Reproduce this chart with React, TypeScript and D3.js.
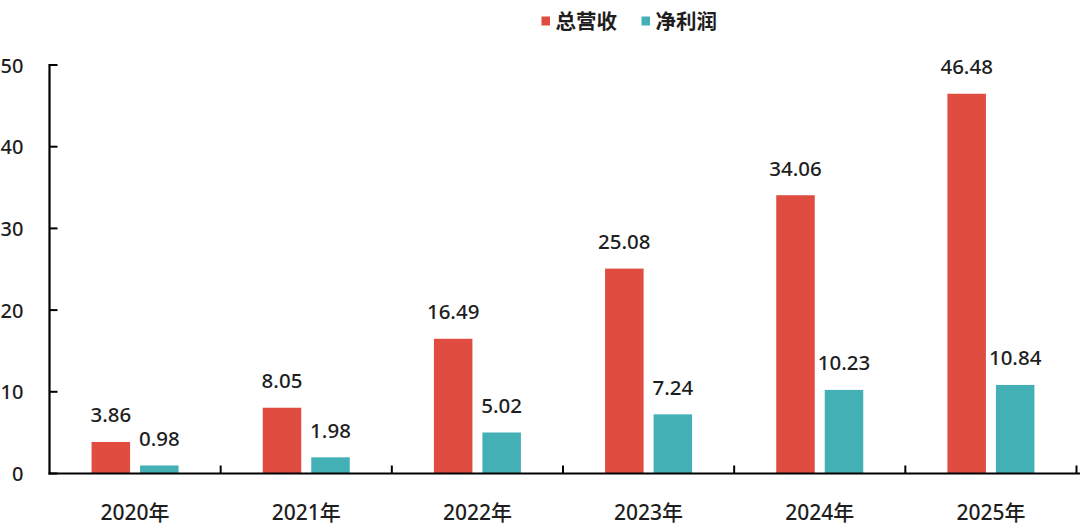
import React from "react";
import * as d3 from "d3";

const categories = ["2020年", "2021年", "2022年", "2023年", "2024年", "2025年"];
const revenue = [3.86, 8.05, 16.49, 25.08, 34.06, 46.48];
const profit = [0.98, 1.98, 5.02, 7.24, 10.23, 10.84];
const seriesNames = ["总营收", "净利润"];
const yTicks = [0, 10, 20, 30, 40, 50];
const colors = ["#E04C40", "#42B0B5"];

const W = 1080;
const H = 526;
const FONT = "'Noto Sans', 'Noto Sans CJK SC', sans-serif";

export default function App() {
  const x0 = 49.5;
  const x1 = 1076.5;
  const yBase = 473.5;
  const yTop = 65;
  const x = d3.scaleBand<string>().domain(categories).range([x0, x1]).paddingInner(0).paddingOuter(0);
  const y = d3.scaleLinear().domain([0, 50]).range([yBase, yTop]);
  const bw = 38.5;
  const gap = 10;
  const series = [revenue, profit];

  return (
    <svg
      width={W}
      height={H}
      style={{ position: "fixed", left: 0, top: 0, background: "#fff" }}
      fontFamily={FONT}
    >
      <rect x={0} y={0} width={W} height={H} fill="#fff" />
      {/* legend */}
      {seriesNames.map((n, i) => {
        const lx = i === 0 ? 541.5 : 641.5;
        return (
          <g key={n}>
            <rect x={lx} y={16.5} width={8.5} height={9} fill={colors[i]} />
            <text x={lx + 14} y={29} fontSize={20.5} fontWeight={700} fill="#1e1e1e" fontFamily="'Noto Sans CJK SC', sans-serif">
              {n}
            </text>
          </g>
        );
      })}
      {/* bars */}
      {categories.map((c, ci) => {
        const center = (x(c) as number) + x.bandwidth() / 2;
        return (
          <g key={c}>
            {series.map((s, si) => {
              const bx = si === 0 ? center - gap / 2 - bw : center + gap / 2;
              const v = s[ci];
              return (
                <g key={si}>
                  <rect x={bx} y={y(v)} width={bw} height={yBase - y(v)} fill={colors[si]} />
                  <text
                    x={bx + bw / 2}
                    y={y(v) - 19.5}
                    textAnchor="middle"
                    fontSize={20.5}
                    fontWeight={500}
                    fill="#1e1e1e"
                  >
                    {v.toFixed(2)}
                  </text>
                </g>
              );
            })}
            <text x={center} y={519.5} textAnchor="middle" fontSize={21} fontWeight={500} fill="#1e1e1e">
              {c}
            </text>
          </g>
        );
      })}
      {/* y axis */}
      <line x1={x0} x2={x0} y1={yTop - 1} y2={yBase + 1} stroke="#000" strokeWidth={2.2} />
      {yTicks.map((t) => (
        <g key={t}>
          <line x1={x0} x2={x0 + 8} y1={y(t)} y2={y(t)} stroke="#000" strokeWidth={2} />
          <text x={23.5} y={y(t) + 7.5} textAnchor="end" fontSize={20} fontWeight={500} fill="#1e1e1e">
            {t}
          </text>
        </g>
      ))}
      {/* x axis */}
      <line x1={x0 - 1} x2={W} y1={yBase} y2={yBase} stroke="#000" strokeWidth={2.2} />
      {categories.map((c, i) => {
        const tx = (x(c) as number) + x.bandwidth();
        return <line key={i} x1={tx} x2={tx} y1={yBase} y2={yBase - 8} stroke="#000" strokeWidth={2} />;
      })}
    </svg>
  );
}
